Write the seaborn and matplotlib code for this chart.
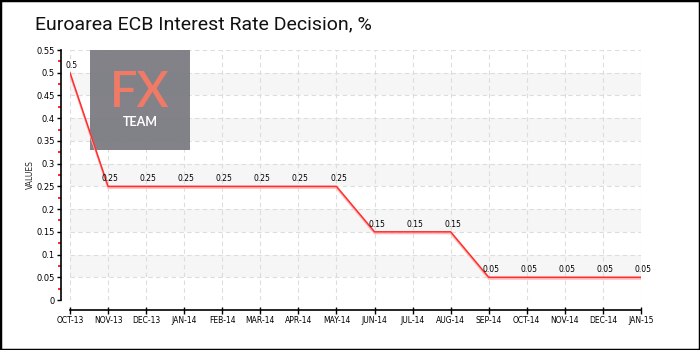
import matplotlib
matplotlib.use("Agg")
import matplotlib.pyplot as plt
import matplotlib.patches as patches
import matplotlib.transforms as mtransforms
import seaborn as sns
import pandas as pd
import numpy as np

sns.set_theme(style="white")
plt.rcParams['font.family'] = ['DejaVu Sans']

# data
months = ['OCT-13', 'NOV-13', 'DEC-13', 'JAN-14', 'FEB-14', 'MAR-14', 'APR-14', 'MAY-14',
          'JUN-14', 'JUL-14', 'AUG-14', 'SEP-14', 'OCT-14', 'NOV-14', 'DEC-14', 'JAN-15']
rates = [0.5, 0.25, 0.25, 0.25, 0.25, 0.25, 0.25, 0.25,
         0.15, 0.15, 0.15, 0.05, 0.05, 0.05, 0.05, 0.05]
y_ticks = [0, 0.05, 0.1, 0.15, 0.2, 0.25, 0.3, 0.35, 0.4, 0.45, 0.5, 0.55]

df = pd.DataFrame({'pos': range(len(months)), 'month': months, 'rate': rates})

W, H = 700, 350
PX = 72 / 100  # points per pixel
fig = plt.figure(figsize=(7, 3.5), dpi=100)
ax = fig.add_axes([70 / W, 1 - 300 / H, 571 / W, 250 / H])

# alternating bands
for lo in [0.05, 0.15, 0.25, 0.35, 0.45]:
    ax.axhspan(lo, lo + 0.05, color='#f6f6f6', zorder=0, lw=0)

ax.set_xlim(0, len(months) - 1)
ax.set_ylim(0, 0.55)
ax.set_xticks(df['pos'])
ax.set_xticklabels(months)
ax.set_yticks(y_ticks)
ax.set_yticklabels([f"{v:g}" for v in y_ticks])
ax.grid(True, color='#dddddd', linestyle=(0, (4, 3)), linewidth=0.8, zorder=1)
ax.set_axisbelow(True)

# logo box (drawn behind the line)
ax.add_patch(patches.Rectangle((90 / W, 1 - 150 / H), 100 / W, 100 / H, transform=fig.transFigure,
                               facecolor='#7b7b82', edgecolor='none', alpha=0.95, zorder=2, clip_on=False))
ax.text(140 / W, 1 - 93 / H, 'FX', transform=fig.transFigure, color='#f07a66', fontsize=35,
        ha='center', va='center', fontweight='semibold', family=['Lato', 'DejaVu Sans'], zorder=2.5)
ax.text(140 / W, 1 - 122 / H, 'TEAM', transform=fig.transFigure, color='white', fontsize=9,
        ha='center', va='center', fontweight='bold', family=['Lato', 'DejaVu Sans'], zorder=2.5)

# shadow + line
shadow = mtransforms.offset_copy(ax.transData, fig=fig, x=0, y=-1.5, units='dots')
ax.plot(df['pos'], df['rate'], color='#ffb8b8', linewidth=1.4, transform=shadow, zorder=3)
sns.lineplot(data=df, x='pos', y='rate', ax=ax, color='#ff2e2e', linewidth=1.1, zorder=4)

for p, r in zip(df['pos'], df['rate']):
    ax.annotate(f"{r:g}", (p, r), xytext=(2 * PX, 3 * PX), textcoords='offset points',
                ha='center', va='bottom', fontsize=5.5, color='black', zorder=5)

ax.set_xlabel('')
ax.set_ylabel('VALUES', fontsize=5.5, labelpad=1)

for s in ['top', 'right']:
    ax.spines[s].set_visible(False)
ax.spines['left'].set_position(('outward', 9 * PX))
ax.spines['bottom'].set_position(('outward', 10 * PX))
ax.spines['left'].set_color('black')
ax.spines['bottom'].set_color('black')
ax.spines['left'].set_linewidth(1.2)
ax.spines['bottom'].set_linewidth(1.2)
ax.tick_params(axis='y', direction='out', length=4 * PX, width=1, colors='black', labelsize=6, pad=1.5, left=True)
ax.tick_params(axis='x', direction='inout', length=7 * PX, width=1, colors='black', labelsize=5.5, pad=2, bottom=True)
ax.set_yticks(np.arange(0.025, 0.55, 0.05), minor=True)
ax.tick_params(axis='y', which='minor', direction='out', length=3 * PX, width=1.2, color='#ff0000', left=True)

fig.text(35 / W, 1 - 24 / H, 'Euroarea ECB Interest Rate Decision, %', fontsize=14,
         va='center', ha='left', color='#111111', family=['Roboto', 'DejaVu Sans'])

fig.patches.append(patches.Rectangle((0, 0), 1, 1, transform=fig.transFigure, fill=False,
                                     edgecolor='black', linewidth=2.5))

fig.savefig('out.png', dpi=100)
